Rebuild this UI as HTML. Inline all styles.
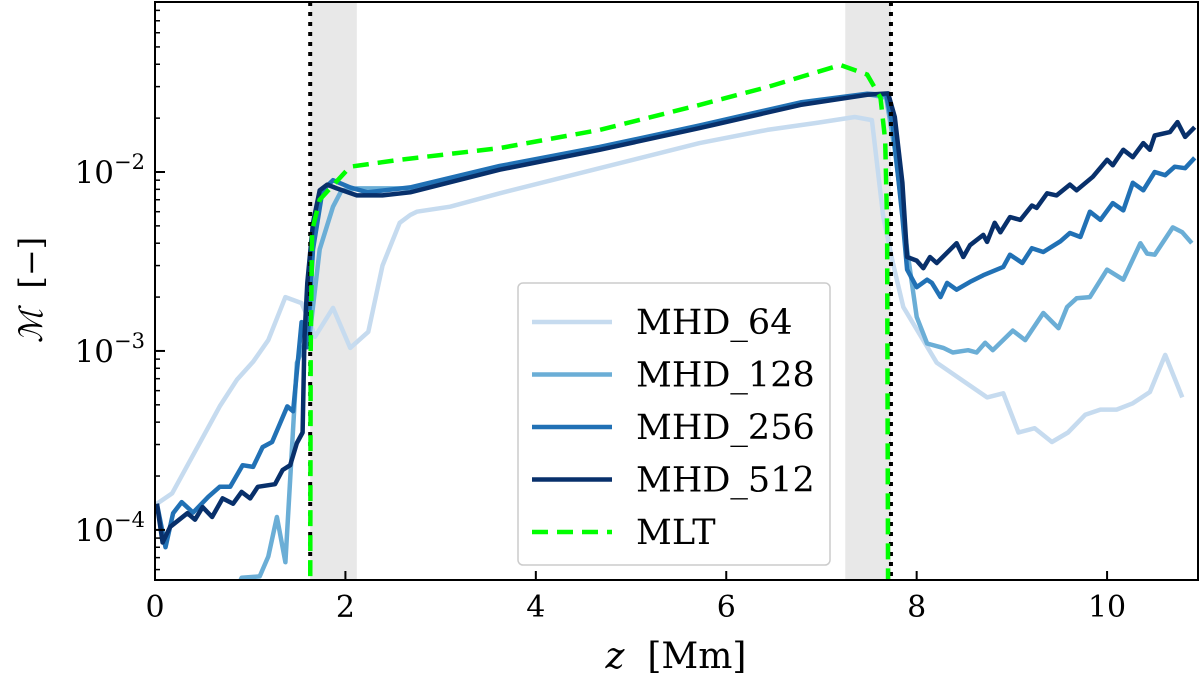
<!DOCTYPE html>
<html><head><meta charset="utf-8">
<style>
html,body{margin:0;padding:0;background:#fff;}
svg{display:block;font-family:"DejaVu Serif","Liberation Serif",serif;}
</style></head>
<body>
<svg id="chart" width="1200" height="678" viewBox="0 0 1200 678">
<defs><clipPath id="clip"><rect x="155" y="2" width="1043" height="578"/></clipPath></defs>
<g id="bands" clip-path="url(#clip)"></g>
<g id="series" clip-path="url(#clip)"></g>
<g id="axes"></g>
<g id="legend"></g>
</svg>
<script>
// ---- data ----
const xTicks = [0, 2, 4, 6, 8, 10];
const yDecades = [-4, -3, -2];
const bandRanges = [[1.63, 2.12], [7.25, 7.73]];
const vLines = [1.63, 7.73];
const seriesNames = ["MHD_64", "MHD_128", "MHD_256", "MHD_512", "MLT"];

const z64 = [0.02,0.18,0.68,0.86,1.03,1.19,1.37,1.54,1.63,1.68,1.87,2.05,2.24,2.39,2.57,2.68,2.75,3.10,3.62,4.67,5.72,6.43,6.95,7.35,7.53,7.65,7.75,7.86,8.21,8.74,8.91,9.07,9.24,9.42,9.59,9.77,9.93,10.10,10.27,10.45,10.61,10.79];
const m64 = [1.4e-4,1.6e-4,4.9e-4,6.9e-4,8.7e-4,1.15e-3,2.0e-3,1.85e-3,1.43e-3,1.2e-3,1.74e-3,1.04e-3,1.28e-3,3.0e-3,5.2e-3,5.75e-3,6.0e-3,6.4e-3,7.6e-3,1.05e-2,1.45e-2,1.72e-2,1.88e-2,2.03e-2,1.95e-2,5.6e-3,3.1e-3,1.76e-3,8.6e-4,5.5e-4,5.8e-4,3.5e-4,3.7e-4,3.1e-4,3.5e-4,4.4e-4,4.7e-4,4.7e-4,5.1e-4,5.9e-4,9.5e-4,5.5e-4];

const z128 = [0.80,0.91,1.10,1.19,1.28,1.37,1.49,1.63,1.73,1.87,1.96,2.12,2.68,3.62,4.67,5.72,6.78,7.48,7.68,7.77,7.90,8.0,8.11,8.28,8.38,8.54,8.63,8.72,8.80,9.01,9.14,9.33,9.49,9.58,9.68,9.82,10.0,10.17,10.35,10.42,10.50,10.69,10.79,10.89];
const m128 = [4e-5,5.4e-5,5.5e-5,7.1e-5,1.18e-4,6.6e-5,8.6e-4,1.3e-3,3.7e-3,6.4e-3,7.9e-3,8.1e-3,8.1e-3,1.06e-2,1.36e-2,1.8e-2,2.42e-2,2.72e-2,2.6e-2,1.33e-2,3.7e-3,1.55e-3,1.1e-3,1.04e-3,9.8e-4,1.01e-3,9.8e-4,1.11e-3,1.01e-3,1.3e-3,1.15e-3,1.63e-3,1.34e-3,1.76e-3,1.97e-3,2.0e-3,2.85e-3,2.5e-3,4.0e-3,3.5e-3,3.45e-3,4.9e-3,4.6e-3,4.0e-3];

const z256 = [0.02,0.11,0.19,0.28,0.40,0.56,0.68,0.79,0.92,1.03,1.13,1.23,1.39,1.45,1.54,1.60,1.66,1.76,1.87,2.05,2.23,2.68,3.62,4.67,5.72,6.78,7.48,7.68,7.75,7.85,7.90,8.0,8.11,8.16,8.25,8.32,8.42,8.56,8.70,8.91,8.98,9.11,9.21,9.33,9.51,9.61,9.72,9.82,9.93,10.06,10.17,10.27,10.38,10.50,10.61,10.71,10.82,10.92];
const m256 = [1.4e-4,8e-5,1.24e-4,1.43e-4,1.25e-4,1.53e-4,1.74e-4,1.74e-4,2.3e-4,2.25e-4,2.9e-4,3.1e-4,4.9e-4,4.6e-4,1.45e-3,1.05e-3,3.7e-3,7.9e-3,9.0e-3,8.2e-3,7.7e-3,8.2e-3,1.08e-2,1.38e-2,1.82e-2,2.45e-2,2.74e-2,2.7e-2,1.78e-2,5.6e-3,2.85e-3,2.27e-3,2.5e-3,2.4e-3,2.0e-3,2.4e-3,2.2e-3,2.43e-3,2.65e-3,2.95e-3,3.45e-3,3.1e-3,3.75e-3,3.57e-3,4.1e-3,4.56e-3,4.33e-3,6.0e-3,5.4e-3,6.7e-3,6.1e-3,8.7e-3,7.9e-3,1.0e-2,9.6e-3,1.07e-2,1.05e-2,1.2e-2];

const z512 = [0.02,0.08,0.16,0.34,0.42,0.50,0.60,0.71,0.82,0.91,1.0,1.08,1.26,1.34,1.42,1.49,1.55,1.57,1.60,1.66,1.73,1.81,1.91,2.12,2.39,2.68,3.62,4.67,5.72,6.78,7.48,7.70,7.77,7.85,7.90,8.0,8.07,8.14,8.21,8.42,8.49,8.56,8.70,8.74,8.82,8.88,8.98,9.09,9.21,9.26,9.37,9.47,9.61,9.68,9.85,10.0,10.06,10.17,10.27,10.38,10.45,10.50,10.66,10.74,10.82,10.92];
const m512 = [1.4e-4,8.5e-5,1.04e-4,1.24e-4,1.14e-4,1.34e-4,1.18e-4,1.5e-4,1.4e-4,1.63e-4,1.5e-4,1.74e-4,1.8e-4,2.16e-4,2.3e-4,3.06e-4,3.5e-4,1.2e-3,2.4e-3,5.2e-3,7.9e-3,8.5e-3,8.1e-3,7.4e-3,7.4e-3,7.7e-3,1.03e-2,1.33e-2,1.76e-2,2.37e-2,2.7e-2,2.75e-2,2.03e-2,8.7e-3,3.35e-3,3.2e-3,2.9e-3,3.35e-3,3.1e-3,4.0e-3,3.35e-3,3.9e-3,4.45e-3,4.07e-3,5.2e-3,4.6e-3,5.6e-3,5.4e-3,6.5e-3,6.3e-3,7.6e-3,7.4e-3,8.5e-3,7.9e-3,9.4e-3,1.17e-2,1.09e-2,1.33e-2,1.21e-2,1.45e-2,1.33e-2,1.6e-2,1.67e-2,1.9e-2,1.57e-2,1.78e-2];

const zMLT = [1.63,1.635,1.65,1.73,2.05,2.57,3.62,4.67,5.72,6.43,7.2,7.48,7.62,7.67,7.69,7.70];
const mMLT = [4e-5,1e-3,4.7e-3,7.0e-3,1.07e-2,1.17e-2,1.36e-2,1.72e-2,2.37e-2,2.98e-2,3.96e-2,3.5e-2,2.6e-2,1.5e-2,5e-3,4e-5];

// ---- axes ----
const X0 = 155, X1 = 1198, Y0 = 580, Y1 = 2;
const zMin = 0, zMax = 10.955;
const lMin = -4.28, lMax = -1.05;
const xs = z => X0 + (z - zMin) / (zMax - zMin) * (X1 - X0);
const ys = m => Y0 - (Math.log10(m) - lMin) / (lMax - lMin) * (Y0 - Y1);
const NS = "http://www.w3.org/2000/svg";
function mk(tag, attrs, parent) {
  const e = document.createElementNS(NS, tag);
  for (const k in attrs) e.setAttribute(k, attrs[k]);
  parent.appendChild(e);
  return e;
}

const bands = document.getElementById('bands');
bandRanges.forEach((r, i) => {
  const b = mk('rect', {x: xs(r[0]), y: Y1, width: xs(r[1]) - xs(r[0]), height: Y0 - Y1, fill: '#e8e8e8'}, bands);
  
  
});

const series = document.getElementById('series');
function path(zs, ms) {
  return zs.map((z, i) => (i ? 'L' : 'M') + xs(z).toFixed(1) + ' ' + ys(ms[i]).toFixed(1)).join(' ');
}
const defs = [
  [z64, m64, '#c6dbef', 4.5, null],
  [z128, m128, '#6baed6', 4.5, null],
  [z256, m256, '#2171b5', 4.5, null],
  [z512, m512, '#08306b', 4.5, null],
  [zMLT, mMLT, '#00ff00', 4.5, '16 9']
];
const colors = defs.map(d => d[2]);
defs.forEach((d, i) => {
  if (i === 4) return;
  const p = mk('path', {d: path(d[0], d[1]), fill: 'none', stroke: d[2], 'stroke-width': d[3], 'stroke-linejoin': 'round'}, series);
  
  
});
vLines.forEach((v, i) => {
  const l = mk('line', {x1: xs(v), x2: xs(v), y1: Y1, y2: Y0, stroke: '#000', 'stroke-width': 4, 'stroke-dasharray': '4 6'}, series);
  
  
});
{
  const d = defs[4];
  const p = mk('path', {d: path(d[0], d[1]), fill: 'none', stroke: d[2], 'stroke-width': d[3], 'stroke-dasharray': d[4]}, series);
  
  
}

const axes = document.getElementById('axes');
const frame = mk('rect', {x: X0, y: Y1, width: X1 - X0, height: Y0 - Y1, fill: 'none', stroke: '#000', 'stroke-width': 2}, axes);


xTicks.forEach(t => {
  const x = xs(t);
  const tk = mk('line', {x1: x, x2: x, y1: Y0, y2: Y0 - 9, stroke: '#000', 'stroke-width': 2}, axes);
  
  
  const tx = mk('text', {x: x, y: Y0 + 37, 'font-size': 30, 'text-anchor': 'middle', fill: '#000'}, axes);
  tx.textContent = t;
  
  
});
for (let dcd = -5; dcd <= -1; dcd++) {
  for (let k = 1; k <= 9; k++) {
    const v = k * Math.pow(10, dcd);
    const l = Math.log10(v);
    if (l < lMin || l > lMax) continue;
    const y = ys(v);
    const major = k === 1;
    const tk = mk('line', {x1: X0, x2: X0 + (major ? 10 : 5), y1: y, y2: y, stroke: '#000', 'stroke-width': major ? 2 : 1.5}, axes);
    
    
  }
}
yDecades.forEach(e => {
  const y = ys(Math.pow(10, e));
  const tx = mk('text', {x: X0 - 10, y: y + 11, 'font-size': 31, 'text-anchor': 'end', fill: '#000'}, axes);
  
  
  const a = mk('tspan', {}, tx); a.textContent = '10';
  const b = mk('tspan', {dy: -14, 'font-size': 21}, tx); b.textContent = '\u2212' + (-e);
});
const xl = mk('text', {x: 676, y: 668, 'font-size': 36, 'text-anchor': 'middle', fill: '#000'}, axes);


{ const a = mk('tspan', {'font-style': 'italic'}, xl); a.textContent = 'z'; const b = mk('tspan', {}, xl); b.textContent = '\u00a0\u00a0[Mm]'; }
const yl = mk('text', {x: 0, y: 0, 'font-size': 32, 'text-anchor': 'middle', fill: '#000', transform: 'translate(42,290) rotate(-90)'}, axes);


{ const a = mk('tspan', {'font-style': 'italic'}, yl); a.textContent = '\u2133'; const b = mk('tspan', {}, yl); b.textContent = '\u00a0\u00a0[\u2212]'; }

// legend
const lg = document.getElementById('legend');
const box = mk('rect', {x: 518, y: 283, width: 312, height: 282, rx: 5, fill: 'rgba(255,255,255,0.85)', stroke: '#ccc', 'stroke-width': 1.5}, lg);


seriesNames.forEach((n, i) => {
  const y = 322 + i * 52.5;
  const l = mk('line', {x1: 532, x2: 612, y1: y, y2: y, stroke: colors[i], 'stroke-width': 4.5}, lg);
  if (i === 4) l.setAttribute('stroke-dasharray', '16 9');
  
  
  const t = mk('text', {x: 636, y: y + 12, 'font-size': 35, fill: '#000'}, lg);
  t.textContent = n;
  
  
});
</script>
</body></html>
